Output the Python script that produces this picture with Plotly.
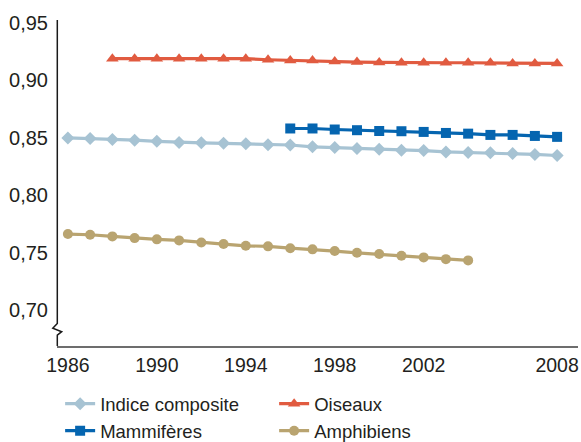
import plotly.graph_objects as go

years_composite = list(range(1986, 2009))
composite = [0.8500, 0.8495, 0.8486, 0.8480, 0.8470, 0.8460, 0.8457, 0.8453, 0.8448, 0.8440,
             0.8438, 0.8422, 0.8416, 0.8408, 0.8402, 0.8393, 0.8390, 0.8378, 0.8373, 0.8370,
             0.8364, 0.8356, 0.8347]

years_birds = list(range(1988, 2009))
birds = [0.9189, 0.9189, 0.9189, 0.9189, 0.9189, 0.9189, 0.9189, 0.9180, 0.9174, 0.9174,
         0.9165, 0.9160, 0.9157, 0.9154, 0.9154, 0.9154, 0.9154, 0.9154, 0.9148, 0.9148, 0.9148]

years_mammals = list(range(1996, 2009))
mammals = [0.8582, 0.8582, 0.8573, 0.8567, 0.8560, 0.8558, 0.8552, 0.8543, 0.8537, 0.8526,
           0.8526, 0.8517, 0.8509]

years_amphibians = list(range(1986, 2005))
amphibians = [0.7663, 0.7657, 0.7643, 0.7628, 0.7617, 0.7608, 0.7590, 0.7576, 0.7561, 0.7556,
              0.7540, 0.7530, 0.7515, 0.7500, 0.7489, 0.7474, 0.7460, 0.7445, 0.7434]

x_tickvals = [1986, 1990, 1994, 1998, 2002, 2008]
y_tickvals = [0.70, 0.75, 0.80, 0.85, 0.90, 0.95]

names = ["Indice composite", "Oiseaux", "Mammifères", "Amphibiens"]
colors = ["#a7c3d3", "#e15b40", "#0565b0", "#b9a470"]
symbols = ["diamond", "triangle-up", "square", "circle"]

FONT = "Liberation Sans, Arial, sans-serif"

fig = go.Figure()
series = [(years_composite, composite), (years_birds, birds),
          (years_mammals, mammals), (years_amphibians, amphibians)]
for (xs, ys), name, col, sym in zip(series, names, colors, symbols):
    fig.add_trace(go.Scatter(
        x=xs, y=ys, name=name, mode="lines+markers",
        line=dict(color=col, width=3.2),
        marker=dict(color=col, symbol=sym, size=10 if sym != "triangle-up" else 11),
    ))

W, H = 581, 442
ml, mr, mt, mb = 57, 3, 20, 96
pw, ph = W - ml - mr, H - mt - mb

def px_to_paper(px, py):
    return (px - ml) / pw, (H - mb - py) / ph

# y-axis line with break zigzag (pixel coords converted to paper)
pts = [(57.3, 20), (57.3, 323.5), (52.8, 328.3), (61.7, 331.7), (57.3, 335.2), (57.3, 346)]
path = ""
for i, (px, py) in enumerate(pts):
    x, y = px_to_paper(px, py)
    path += ("M" if i == 0 else "L") + f"{x:.5f},{y:.5f} "

fig.add_shape(type="path", path=path.strip(), xref="paper", yref="paper",
              line=dict(color="#1a1a1a", width=1.5), layer="above")

fig.update_layout(
    width=W, height=H,
    margin=dict(l=ml, r=mr, t=mt, b=mb, pad=0, autoexpand=False),
    paper_bgcolor="white", plot_bgcolor="white",
    separators=",.",
    font=dict(family=FONT, size=19, color="#231f20"),
    showlegend=True,
    legend=dict(
        orientation="h", x=0.006, xanchor="left", y=-0.12, yanchor="top",
        entrywidth=169, entrywidthmode="pixels",
        font=dict(family=FONT, size=18.5, color="#231f20"),
        bgcolor="rgba(0,0,0,0)", tracegroupgap=0,
    ),
    xaxis=dict(
        range=[1985.51, 2008.94], tickvals=x_tickvals, ticktext=[str(v) for v in x_tickvals],
        showgrid=False, zeroline=False, showline=True, linecolor="#6d6d6d", linewidth=1.5,
        ticks="", ticklabelstandoff=1, tickfont=dict(size=19.5), automargin=False,
    ),
    yaxis=dict(
        range=[0.6689, 0.9526], tickvals=y_tickvals, tickformat=".2f",
        showgrid=False, zeroline=False, showline=False,
        ticks="", ticklabelstandoff=8, tickfont=dict(size=20), automargin=False,
    ),
)

fig.write_html("out.html", config={"displayModeBar": False},
               post_script="document.body.style.margin='0';document.body.style.padding='0';")
